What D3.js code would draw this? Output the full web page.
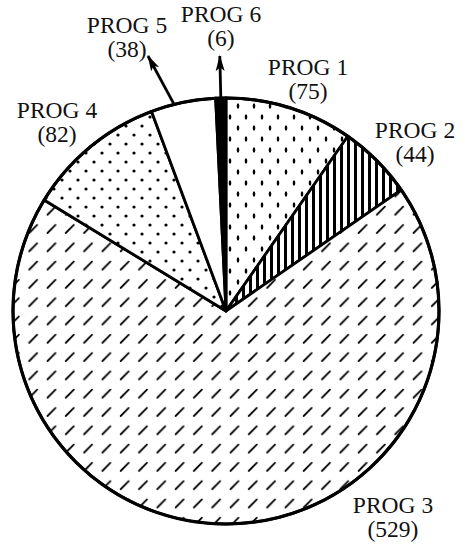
<!DOCTYPE html>
<html>
<head>
<meta charset="utf-8">
<script src="https://cdn.jsdelivr.net/npm/d3@7"></script>
<style>
html,body{margin:0;padding:0;background:#fff;}
svg{display:block;}
text{font-family:"Liberation Serif","Times New Roman",serif;font-size:23.5px;fill:#111;}
</style>
</head>
<body>
<svg id="chart" width="465" height="544"></svg>
<script>
// ---- data ----
const programs = ["PROG 1","PROG 2","PROG 3","PROG 4","PROG 5","PROG 6"];
const counts   = [75, 44, 529, 82, 38, 6];
const fills    = ["url(#pDots)","url(#pStripes)","url(#pDash)","url(#pDense)","#ffffff","#000000"];

// ---- layout (label anchor positions, arrows) ----
const cx = 226, cy = 311, R = 213;
const labelPos = [[308,75],[415,138],[393,513],[57,118],[127,33],[221,22]];
const arrows = [
  {i:4, frac:0.36, tip:[148,56]},
  {i:5, frac:0.5,  tip:null, len:42}
];

const svg = d3.select("#chart");
const defs = svg.append("defs");

// PROG 1 : sparse vertical oval dots
const p1 = defs.append("pattern").attr("id","pDots").attr("patternUnits","userSpaceOnUse")
  .attr("width",16).attr("height",22);
p1.append("rect").attr("width",16).attr("height",22).attr("fill","#fff");
[[4,4],[12,15]].forEach(([x,y])=>p1.append("ellipse").attr("cx",x).attr("cy",y).attr("rx",1.3).attr("ry",2.8).attr("fill","#000"));

// PROG 2 : vertical stripes
const p2 = defs.append("pattern").attr("id","pStripes").attr("patternUnits","userSpaceOnUse")
  .attr("width",7).attr("height",7);
p2.append("rect").attr("width",7).attr("height",7).attr("fill","#fff");
p2.append("rect").attr("x",2).attr("width",3).attr("height",7).attr("fill","#000");

// PROG 3 : diagonal dashes
const p3 = defs.append("pattern").attr("id","pDash").attr("patternUnits","userSpaceOnUse")
  .attr("width",18.3).attr("height",18.3);
p3.append("rect").attr("width",18.3).attr("height",18.3).attr("fill","#fff");
p3.append("line").attr("x1",4.5).attr("y1",13.5).attr("x2",12.5).attr("y2",5.5)
  .attr("stroke","#000").attr("stroke-width",1.8).attr("stroke-linecap","round");

// PROG 4 : dense round dots
const p4 = defs.append("pattern").attr("id","pDense").attr("patternUnits","userSpaceOnUse")
  .attr("width",16).attr("height",18);
p4.append("rect").attr("width",16).attr("height",18).attr("fill","#fff");
[[4,4],[12,13]].forEach(([x,y])=>p4.append("circle").attr("cx",x).attr("cy",y).attr("r",1.6).attr("fill","#000"));

// arrow marker
defs.append("marker").attr("id","arrow").attr("viewBox","0 0 16 10").attr("refX",15).attr("refY",5)
  .attr("markerUnits","userSpaceOnUse").attr("markerWidth",16).attr("markerHeight",10)
  .attr("orient","auto")
  .append("path").attr("d","M0,0.5 L16,5 L0,9.5 L3.5,5 Z").attr("fill","#000");

const pie = d3.pie().sort(null).startAngle(0).endAngle(2*Math.PI);
const arcs = pie(counts);
const arcGen = d3.arc().innerRadius(0).outerRadius(R);

const g = svg.append("g").attr("transform",`translate(${cx},${cy})`);
g.selectAll("path.slice").data(arcs).enter().append("path")
  .attr("class","slice")
  .attr("d",arcGen)
  .attr("fill",(d,i)=>fills[i])
  .attr("stroke","#000").attr("stroke-width",2.8).attr("stroke-linejoin","round");
g.append("circle").attr("r",R).attr("fill","none").attr("stroke","#000").attr("stroke-width",3.2);

// arrows
arrows.forEach(a=>{
  const d = arcs[a.i];
  const ang = d.startAngle + a.frac*(d.endAngle-d.startAngle);
  const x0 = Math.sin(ang)*R, y0 = -Math.cos(ang)*R;
  let tx, ty;
  if (a.tip) { tx = a.tip[0]-cx; ty = a.tip[1]-cy; }
  else { tx = Math.sin(ang)*(R+a.len); ty = -Math.cos(ang)*(R+a.len); }
  g.append("line").attr("x1",x0).attr("y1",y0).attr("x2",tx).attr("y2",ty)
    .attr("stroke","#000").attr("stroke-width",2.8).attr("marker-end","url(#arrow)");
});

// labels
const lab = svg.append("g");
programs.forEach((p,i)=>{
  const [x,y] = labelPos[i];
  lab.append("text").attr("x",x).attr("y",y).attr("text-anchor","middle").text(p);
  lab.append("text").attr("x",x).attr("y",y+24).attr("text-anchor","middle").text(`(${counts[i]})`);
});
</script>
</body>
</html>
